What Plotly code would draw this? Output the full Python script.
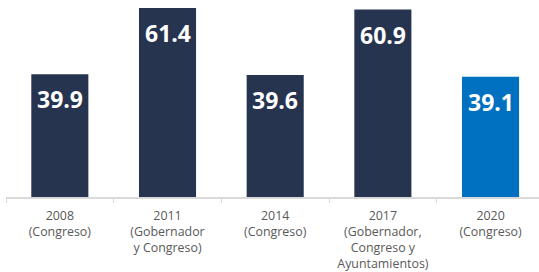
import plotly.graph_objects as go

categories = ["2008<br>(Congreso)", "2011<br>(Gobernador<br>y Congreso)", "2014<br>(Congreso)",
              "2017<br>(Gobernador,<br>Congreso y<br>Ayuntamientos)", "2020<br>(Congreso)"]
values = [39.9, 61.4, 39.6, 60.9, 39.1]
colors = ["#263450", "#263450", "#263450", "#263450", "#0070C0"]

fig = go.Figure(go.Bar(x=categories, y=values, marker=dict(color=colors, line=dict(width=0)),
                       hoverinfo="skip"))

for c, v in zip(categories, values):
    fig.add_annotation(x=c, y=v, text=f"<b>{v:.1f}</b>", showarrow=False, yanchor="middle",
                       yshift=-25, font=dict(color="white", size=23, family="Open Sans"))

fig.update_layout(
    width=539, height=272, margin=dict(l=6, r=0, t=0, b=75),
    paper_bgcolor="white", plot_bgcolor="white", bargap=0.47, showlegend=False,
    xaxis=dict(range=[-0.5, 4.45], showline=True, linecolor="#d9d9d9", linewidth=2,
               ticks="outside", tickson="boundaries", ticklen=4, tickcolor="#d9d9d9", tickwidth=1,
               automargin=False, ticklabelstandoff=6,
               tickfont=dict(color="#595959", size=12.4, family="Open Sans"), showgrid=False),
    yaxis=dict(range=[0, 64], visible=False, showgrid=False, automargin=False),
)
fig.write_html("out.html", config={"displayModeBar": False},
               post_script="document.body.style.margin='0';")
